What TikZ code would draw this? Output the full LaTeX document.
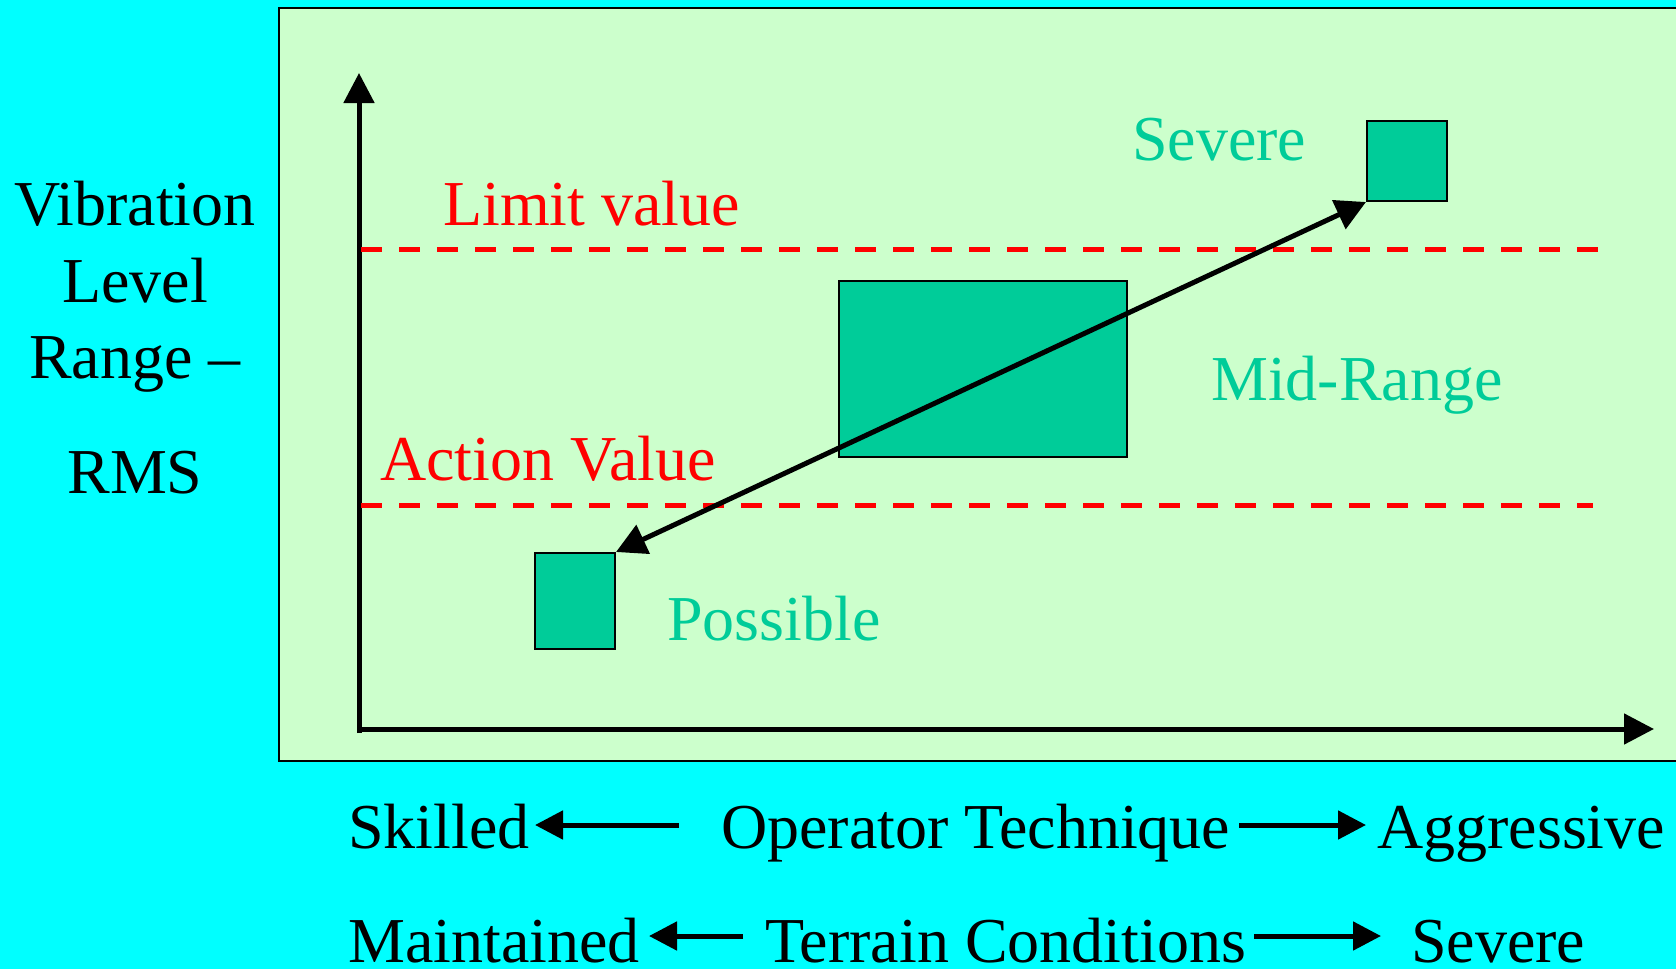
\documentclass[tikz,border=0pt]{standalone}
\usepackage{fontspec}
\setmainfont{Liberation Serif}
\usetikzlibrary{arrows.meta}
\definecolor{bgcyan}{HTML}{00FFFF}
\definecolor{panelgreen}{HTML}{CCFFCC}
\definecolor{boxgreen}{HTML}{00CC99}
\definecolor{limred}{HTML}{FF0000}
\tikzset{
  txt/.style={inner sep=0pt, anchor=base west, font=\fontsize{64}{77}\selectfont},
  ctxt/.style={inner sep=0pt, anchor=base, font=\fontsize{64}{77}\selectfont},
  zonebox/.style={draw=black, line width=2pt, fill=boxgreen, inner sep=0pt},
  axisline/.style={line width=5pt, -{Triangle[length=30pt,width=30pt]}},
  limline/.style={draw=limred, line width=5pt, dash pattern=on 21pt off 17pt},
  diag/.style={line width=5pt, {Triangle[length=30pt,width=31pt]}-{Triangle[length=30pt,width=31pt]}},
  botarrow/.style={line width=5pt, -{Triangle[length=28pt,width=28pt]}}
}
\begin{document}
\begin{tikzpicture}[x=1pt,y=-1pt]
  % background and panel
  \fill[bgcyan] (0,0) rectangle (1676,969);
  \useasboundingbox (0,0) rectangle (1676,969);
  \fill[panelgreen] (279,8) rectangle (1680,761);
  \draw[line width=2pt] (1680,8) -- (279,8) -- (279,761) -- (1680,761);

  % axes
  \coordinate (origin) at (359,731);
  \coordinate (ytop) at (359,73);
  \coordinate (xend) at (1654,729);
  \draw[axisline] (359,733) -- (ytop);
  \draw[axisline] (357,729) -- (xend);

  % dashed limit lines
  \coordinate (limA) at (361,249);
  \coordinate (limB) at (1600,249);
  \coordinate (actA) at (361,505);
  \coordinate (actB) at (1593,505);
  \draw[limline] (limA) -- (limB);
  \draw[limline] (actA) -- (actB);

  % boxes
  \node[zonebox, minimum width=80pt, minimum height=80pt] (severebox) at (1407,161) {};
  \node[zonebox, minimum width=288pt, minimum height=176pt] (midbox) at (983,369) {};
  \node[zonebox, minimum width=80pt, minimum height=96pt] (possiblebox) at (575,601) {};

  % diagonal double arrow
  \draw[diag] (possiblebox.north east) -- (severebox.south west);

  % labels inside panel
  \node[txt, text=limred] (limit) at (443,225) {Limit value};
  \node[txt, text=limred] (action) at (380,480) {Action Value};
  \node[txt, text=boxgreen] (severe) at (1132,160) {Severe};
  \node[txt, text=boxgreen] (midrange) at (1211,400) {Mid-Range};
  \node[txt, text=boxgreen] (possible) at (667,640) {Possible};

  % y-axis title
  \node[ctxt] (ya) at (135,225) {Vibration};
  \node[ctxt] (yb) at (135,302) {Level};
  \node[ctxt] (yc) at (135,378) {Range –};
  \node[ctxt] (yd) at (135,493) {RMS};

  % bottom rows
  \node[txt] (skilled) at (348,848) {Skilled};
  \node[txt] (optech) at (721,848) {Operator Technique};
  \node[txt] (aggr) at (1377,848) {Aggressive};
  \node[txt] (maint) at (348,962) {Maintained};
  \node[txt] (terrain) at (765,962) {Terrain Conditions};
  \node[txt] (sev2) at (1411,962) {Severe};

  \coordinate (r1l) at (679,825);
  \coordinate (r1lt) at (535,825);
  \coordinate (r1r) at (1239,825);
  \coordinate (r1rt) at (1366,825);
  \coordinate (r2l) at (743,936);
  \coordinate (r2lt) at (649,936);
  \coordinate (r2r) at (1254,936);
  \coordinate (r2rt) at (1381,936);
  \draw[botarrow] (r1l) -- (r1lt);
  \draw[botarrow] (r1r) -- (r1rt);
  \draw[botarrow] (r2l) -- (r2lt);
  \draw[botarrow] (r2r) -- (r2rt);
\end{tikzpicture}
\end{document}
